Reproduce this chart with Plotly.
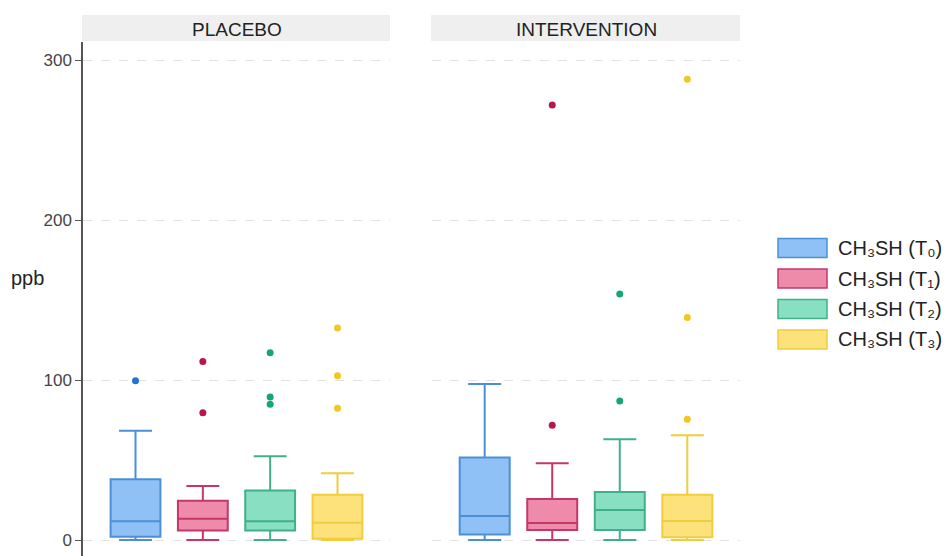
import plotly.graph_objects as go

# ---- data (ppb) ----
panels = ["PLACEBO", "INTERVENTION"]
series_names = ["CH₃SH (T₀)", "CH₃SH (T₁)", "CH₃SH (T₂)", "CH₃SH (T₃)"]

placebo_lower = [0.0, 0.0, 0.0, 0.0]
placebo_q1 = [2.0, 6.0, 6.0, 0.8]
placebo_median = [11.7, 13.3, 11.7, 10.8]
placebo_q3 = [38.0, 24.6, 31.0, 28.3]
placebo_upper = [68.3, 33.8, 52.3, 41.7]
placebo_outliers = [[99.6], [111.5, 79.6], [117.0, 89.4, 84.8], [132.5, 102.7, 82.3]]

intervention_lower = [0.0, 0.0, 0.0, 0.0]
intervention_q1 = [3.5, 6.2, 6.2, 1.7]
intervention_median = [15.0, 10.6, 18.8, 11.9]
intervention_q3 = [51.5, 25.6, 30.0, 28.3]
intervention_upper = [97.5, 48.0, 63.0, 65.4]
intervention_outliers = [[], [271.9, 71.7], [153.8, 86.9], [288.0, 139.0, 75.4]]

y_ticks = [0, 100, 200, 300]
y_label = "ppb"

# ---- styling ----
fill_colors = ["#8fc1f6", "#ee8bab", "#88dfc1", "#fde27c"]
line_colors = ["#4b8fd7", "#c5376c", "#40b08b", "#efcd3d"]
dot_colors = ["#1f74d9", "#b8164e", "#14a578", "#f0c81f"]

W, H = 949, 556
L, R, T, B = 83, 740, 42, 556  # plot area in pixels
PW, PH = R - L, B - T


def px_x(x):
    return (x - L) / PW


def px_y(y):
    return (B - y) / PH


dom1 = [0.0, px_x(390)]
dom2 = [px_x(432), 1.0]

fig = go.Figure()

stats = [
    (placebo_lower, placebo_q1, placebo_median, placebo_q3, placebo_upper, placebo_outliers),
    (intervention_lower, intervention_q1, intervention_median, intervention_q3, intervention_upper,
     intervention_outliers),
]

for p, (lo, q1, med, q3, up, outs) in enumerate(stats):
    xa = "x" if p == 0 else "x2"
    ya = "y" if p == 0 else "y2"
    for i in range(len(series_names)):
        fig.add_trace(go.Box(
            x=[i], q1=[q1[i]], median=[med[i]], q3=[q3[i]],
            lowerfence=[lo[i]], upperfence=[up[i]],
            boxpoints=False, width=0.74, whiskerwidth=0.66,
            fillcolor=fill_colors[i],
            line=dict(color=line_colors[i], width=2),
            name=series_names[i], showlegend=False, hoverinfo="skip",
            xaxis=xa, yaxis=ya,
        ))
        if outs[i]:
            fig.add_trace(go.Scatter(
                x=[i] * len(outs[i]), y=outs[i], mode="markers",
                marker=dict(color=dot_colors[i], size=7),
                showlegend=False, hoverinfo="skip", xaxis=xa, yaxis=ya,
            ))

yrange = [-10, 311.25]
xrange = [-0.78, 3.78]
grid = dict(showgrid=True, gridcolor="#e2e2e2", gridwidth=1, griddash="dash",
            zeroline=False, tickvals=y_ticks, range=yrange)

fig.update_layout(
    width=W, height=H,
    margin=dict(l=L, r=W - R, t=T, b=H - B),
    paper_bgcolor="white", plot_bgcolor="white",
    boxmode="overlay",
    font=dict(family="Liberation Sans, Arial, sans-serif", color="#333"),
    xaxis=dict(domain=dom1, range=xrange, showgrid=False, zeroline=False,
               showticklabels=False, ticks="", showline=False),
    xaxis2=dict(domain=dom2, range=xrange, showgrid=False, zeroline=False,
                showticklabels=False, ticks="", showline=False),
    yaxis=dict(**grid, showline=True, linecolor="#555", linewidth=1.5,
               ticks="outside", ticklen=6, tickcolor="#555", tickwidth=1.2,
               tickfont=dict(size=17, color="#444")),
    yaxis2=dict(**grid, anchor="x2", matches="y", showline=False,
                showticklabels=False, ticks=""),
)

# strip headers
shapes = []
annotations = []
for dom, title in zip([dom1, dom2], panels):
    shapes.append(dict(type="rect", xref="paper", yref="paper",
                       x0=dom[0] - 1 / PW, x1=dom[1], y0=px_y(41), y1=px_y(15),
                       fillcolor="#efefef", line=dict(width=0), layer="below"))
    annotations.append(dict(xref="paper", yref="paper", x=(dom[0] + dom[1]) / 2,
                            y=px_y(29), text=title, showarrow=False,
                            xanchor="center", yanchor="middle",
                            font=dict(size=19, color="#222")))

# y-axis title
annotations.append(dict(xref="paper", yref="paper", x=px_x(9), y=px_y(278),
                        text=y_label, showarrow=False, xanchor="left",
                        yanchor="middle", font=dict(size=20, color="#222")))

# legend
row_y = [248, 278.5, 309, 339.5]
for i, name in enumerate(series_names):
    yc = row_y[i]
    shapes.append(dict(type="rect", xref="paper", yref="paper",
                       x0=px_x(778), x1=px_x(827), y0=px_y(yc + 9.5), y1=px_y(yc - 9.5),
                       fillcolor=fill_colors[i], line=dict(color=line_colors[i], width=1.5)))
    annotations.append(dict(xref="paper", yref="paper", x=px_x(836), y=px_y(yc),
                            text=name, showarrow=False, xanchor="left",
                            yanchor="middle", font=dict(size=20, color="#222")))

fig.update_layout(shapes=shapes, annotations=annotations)

fig.write_html("out.html")
